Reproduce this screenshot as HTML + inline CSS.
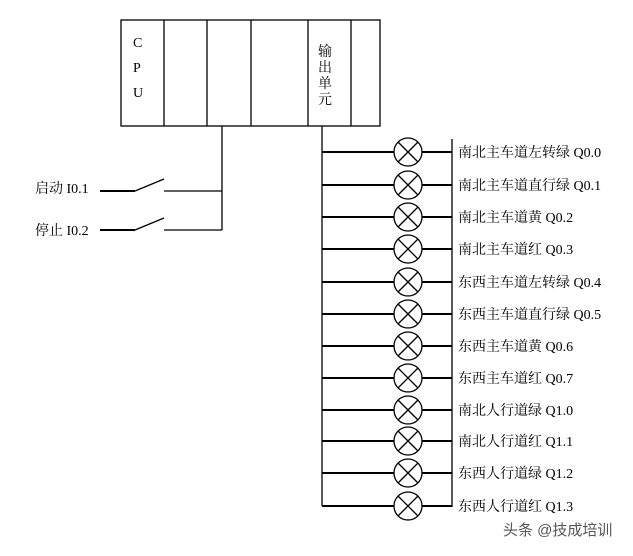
<!DOCTYPE html>
<html><head><meta charset="utf-8"><style>
html,body{margin:0;padding:0;background:#fff}
svg text{font-family:"Liberation Serif","Noto Serif CJK SC",serif;fill:#000}
</style></head><body>
<svg width="633" height="551" viewBox="0 0 633 551" xmlns="http://www.w3.org/2000/svg">
<defs>
<g id="L" stroke="#000" fill="none" stroke-width="1.3">
<line x1="322" y1="0" x2="394" y2="0" stroke-width="2"/>
<line x1="422" y1="0" x2="452" y2="0" stroke-width="2"/>
<circle cx="408" cy="0" r="14"/>
<line x1="398" y1="-10" x2="418" y2="10"/>
<line x1="398" y1="10" x2="418" y2="-10"/>
</g>
</defs>
<g stroke="#000" fill="none" stroke-width="1.3">
<rect x="121" y="20" width="259" height="106"/>
<line x1="164" y1="20" x2="164" y2="126"/><line x1="207" y1="20" x2="207" y2="126"/>
<line x1="251" y1="20" x2="251" y2="126"/><line x1="308" y1="20" x2="308" y2="126"/>
<line x1="351" y1="20" x2="351" y2="126"/>
<line x1="222" y1="126" x2="222" y2="230"/>
<line x1="100" y1="191" x2="135" y2="191" stroke-width="2"/>
<line x1="135" y1="191" x2="164" y2="179"/>
<line x1="164" y1="191" x2="222" y2="191"/>
<line x1="100" y1="230" x2="135" y2="230" stroke-width="2"/>
<line x1="135" y1="230" x2="164" y2="218"/>
<line x1="164" y1="230" x2="222" y2="230"/>
<line x1="322" y1="126" x2="322" y2="506"/>
<line x1="452" y1="139" x2="452" y2="507"/>
</g>
<use href="#L" y="152"/><use href="#L" y="185"/><use href="#L" y="217"/><use href="#L" y="249"/>
<use href="#L" y="282"/><use href="#L" y="314"/><use href="#L" y="346"/><use href="#L" y="378"/>
<use href="#L" y="410"/><use href="#L" y="441"/><use href="#L" y="473"/><use href="#L" y="506"/>
<g font-size="14">
<text x="133" y="47">C</text><text x="133" y="72">P</text><text x="133" y="97">U</text>
<text x="318" y="56">输</text><text x="318" y="72">出</text><text x="318" y="88">单</text><text x="318" y="104">元</text>
<text x="35" y="193">启动 I0.1</text>
<text x="35" y="235">停止 I0.2</text>
<text x="458" y="157">南北主车道左转绿 Q0.0</text>
<text x="458" y="190">南北主车道直行绿 Q0.1</text>
<text x="458" y="222">南北主车道黄 Q0.2</text>
<text x="458" y="254">南北主车道红 Q0.3</text>
<text x="458" y="287">东西主车道左转绿 Q0.4</text>
<text x="458" y="319">东西主车道直行绿 Q0.5</text>
<text x="458" y="351">东西主车道黄 Q0.6</text>
<text x="458" y="383">东西主车道红 Q0.7</text>
<text x="458" y="415">南北人行道绿 Q1.0</text>
<text x="458" y="446">南北人行道红 Q1.1</text>
<text x="458" y="478">东西人行道绿 Q1.2</text>
<text x="458" y="511">东西人行道红 Q1.3</text>
</g>
<text x="503" y="535" font-size="15" style="font-family:'Liberation Sans','Noto Sans CJK SC',sans-serif;fill:#555">头条 @技成培训</text>
</svg>
</body></html>
